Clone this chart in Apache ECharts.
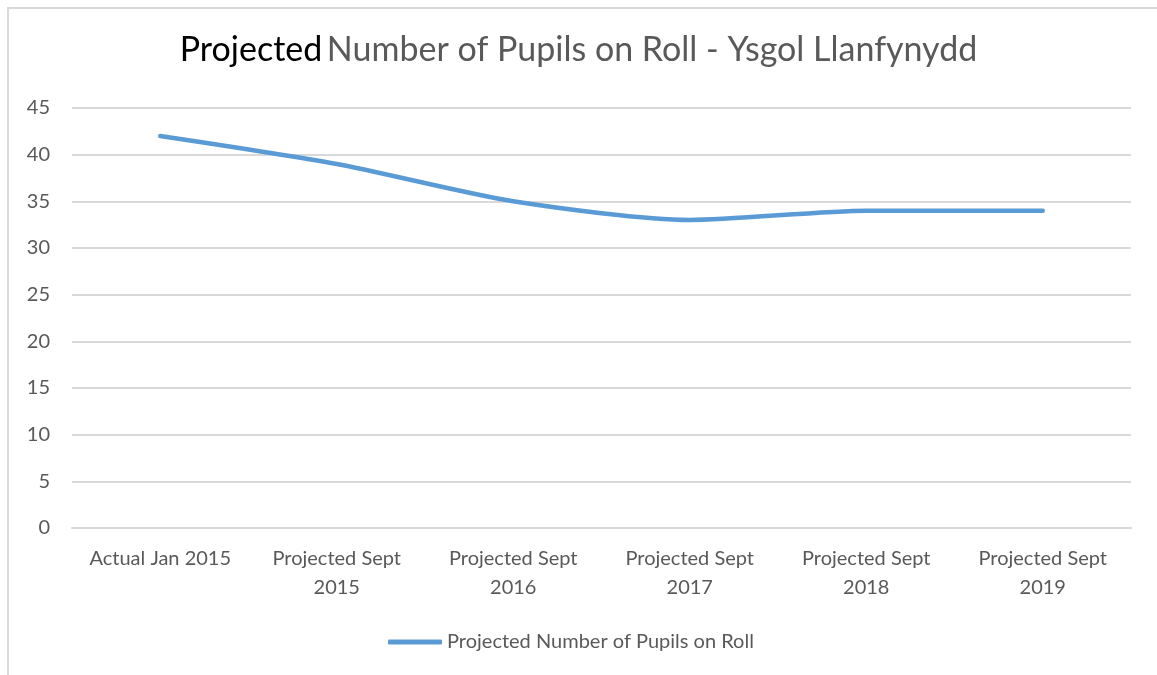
<!DOCTYPE html>
<html>
<head>
<meta charset="utf-8">
<script src="https://cdn.jsdelivr.net/npm/echarts@6/dist/echarts.min.js"></script>
<style>
  html, body { margin: 0; padding: 0; background: #fff; }
  #chart { width: 1157px; height: 675px; }
</style>
</head>
<body>
<div id="chart"></div>
<script>
const categories = ['Actual Jan 2015', 'Projected Sept 2015', 'Projected Sept 2016', 'Projected Sept 2017', 'Projected Sept 2018', 'Projected Sept 2019']
const pupils = [42, 39, 35, 33, 34, 34]
const seriesName = 'Projected Number of Pupils on Roll'

const font = 'Lato, "Open Sans", sans-serif'
const chart = echarts.init(document.getElementById('chart'))

const option = {
  animation: false,
  textStyle: { fontFamily: font },
  graphic: [{
    type: 'rect',
    shape: { x: 8, y: 8, width: 1300, height: 800 },
    style: { fill: 'none', stroke: '#d9d9d9', lineWidth: 2 },
    silent: true
  }],
  title: {
    text: '{a|Projected} {b|Number of Pupils on Roll - Ysgol Llanfynydd}',
    left: 'center',
    top: 28,
    textStyle: {
      fontWeight: 'normal',
      rich: {
        a: { fontSize: 34, color: '#000', fontFamily: font, fontWeight: 'normal' },
        b: { fontSize: 34, color: '#595959', fontFamily: font, fontWeight: 'normal' }
      }
    }
  },
  legend: {
    top: 632,
    left: 388,
    padding: 0,
    icon: 'roundRect',
    itemWidth: 54,
    itemHeight: 5,
    itemGap: 5,
    formatter: '{t|{name}}',
    textStyle: {
      fontSize: 20,
      color: '#595959',
      fontFamily: font,
      rich: { t: { fontSize: 20, color: '#595959', fontFamily: font } }
    },
    data: [seriesName]
  },
  grid: { left: 72, right: 26, top: 108, bottom: 147 },
  xAxis: {
    type: 'category',
    data: categories,
    boundaryGap: true,
    axisLine: { lineStyle: { color: '#d9d9d9', width: 2 } },
    axisTick: { show: false },
    axisLabel: {
      interval: 0,
      margin: 16,
      fontSize: 20,
      lineHeight: 29,
      color: '#595959',
      formatter: v => v.startsWith('Projected') ? v.replace(/ (\d{4})$/, '\n$1') : v
    }
  },
  yAxis: {
    type: 'value',
    min: 0,
    max: 45,
    interval: 5,
    axisLine: { show: false },
    axisTick: { show: false },
    splitLine: { lineStyle: { color: '#d9d9d9', width: 2 } },
    axisLabel: { fontSize: 20, color: '#595959', margin: 22 }
  },
  series: [{
    name: seriesName,
    type: 'line',
    data: pupils,
    smooth: 0.25,
    symbol: 'none',
    lineStyle: { color: '#5b9bd5', width: 4.5, cap: 'round' },
    itemStyle: { color: '#5b9bd5' }
  }]
}

chart.setOption(option)
</script>
</body>
</html>
